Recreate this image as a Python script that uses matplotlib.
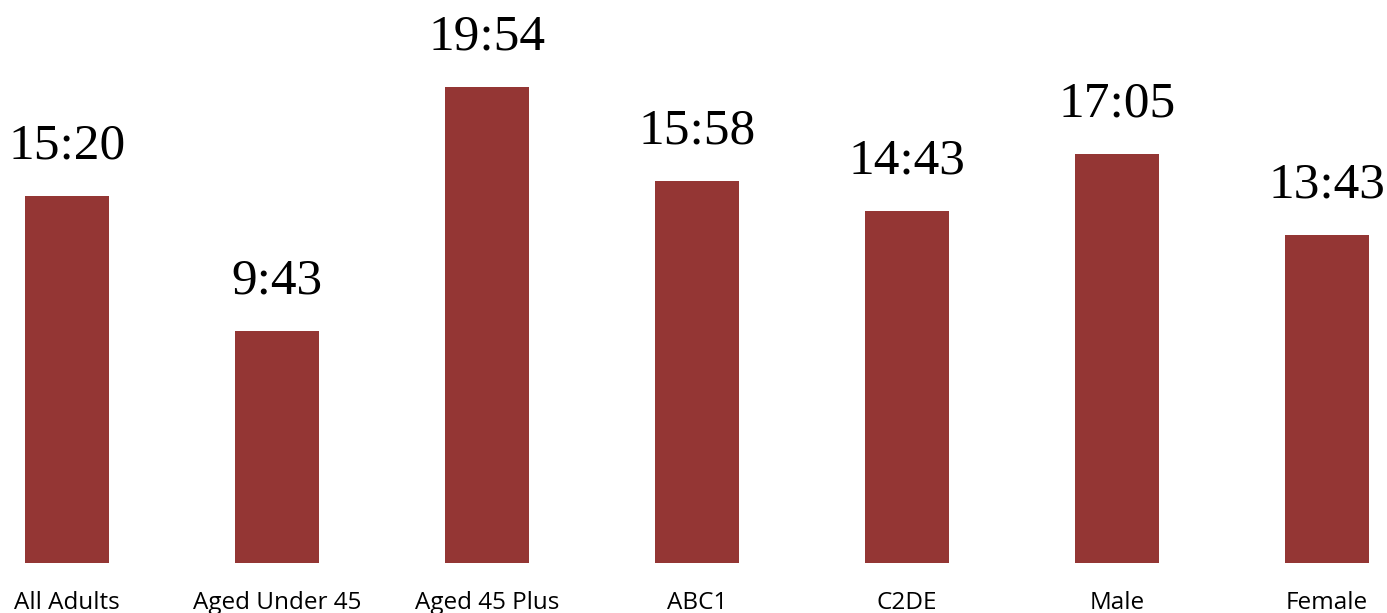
import matplotlib
matplotlib.use("Agg")
import matplotlib.pyplot as plt

categories = ["All Adults", "Aged Under 45", "Aged 45 Plus", "ABC1", "C2DE", "Male", "Female"]
durations = ["15:20", "9:43", "19:54", "15:58", "14:43", "17:05", "13:43"]


def to_seconds(t):
    m, s = t.split(":")
    return int(m) * 60 + int(s)


values = [to_seconds(t) for t in durations]

fig = plt.figure(figsize=(13.87, 6.13), dpi=100)
ax = fig.add_axes([0, 50 / 613, 1, 558 / 613])

x = list(range(len(categories)))
ax.bar(x, values, width=0.4, color="#943634")

ax.set_xlim(-67 / 210, (1387 - 67) / 210)
ax.set_ylim(0, 1400)

for xi, v, label in zip(x, values, durations):
    ax.annotate(label, (xi, v), xytext=(0, 27), textcoords="offset points",
                ha="center", va="baseline", fontsize=37,
                family="Liberation Serif", color="#000000")

for spine in ax.spines.values():
    spine.set_visible(False)
ax.set_yticks([])
ax.set_xticks(x)
ax.set_xticklabels(categories, fontsize=17.5, family="Open Sans")
ax.tick_params(axis="x", length=0, pad=20)

fig.savefig("out.png", dpi=100)
